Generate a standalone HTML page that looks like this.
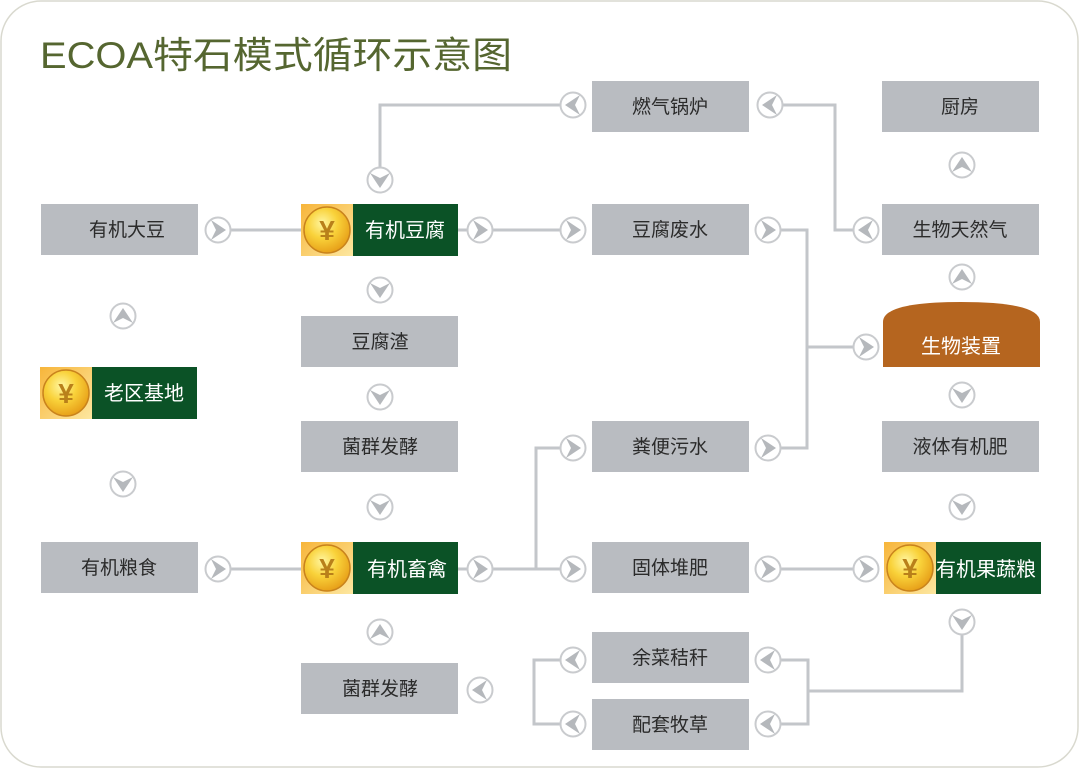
<!DOCTYPE html>
<html><head><meta charset="utf-8"><style>
html,body{margin:0;padding:0;background:#fff;}
svg{display:block;}
text{font-family:"Liberation Sans","Noto Sans CJK SC",sans-serif;}
</style></head><body>
<svg width="1080" height="769" viewBox="0 0 1080 769" xmlns="http://www.w3.org/2000/svg">
<defs>
<radialGradient id="cg" cx="40%" cy="35%" r="65%">
<stop offset="0" stop-color="#fff6a0"/><stop offset="0.5" stop-color="#f9d23a"/><stop offset="1" stop-color="#e8a21a"/>
</radialGradient>
<linearGradient id="sq" x1="0" y1="0" x2="1" y2="1">
<stop offset="0" stop-color="#f7b53a"/><stop offset="1" stop-color="#fde7a0"/>
</linearGradient>
<g id="ar">
<circle r="12.5" fill="#fff" stroke="#c9cbce" stroke-width="2"/>
<polygon points="-7,-10 8,0 -7,10 -2,0" fill="#b5b8bc"/>
</g>
<g id="coin">
<rect x="0" y="0" width="52" height="52" fill="url(#sq)"/>
<circle cx="26" cy="26" r="23" fill="url(#cg)" stroke="#c9831c" stroke-width="1.5"/>
<text x="26" y="36" font-size="28" font-weight="bold" fill="#b9801a" text-anchor="middle">¥</text>
</g>
</defs>
<rect x="1" y="1" width="1077" height="766" rx="40" fill="#fff" stroke="#d9d9cf" stroke-width="1.5"/>
<text x="40" y="68" font-size="37" fill="#556630" textLength="472" lengthAdjust="spacingAndGlyphs">ECOA特石模式循环示意图</text>

<g fill="none" stroke="#c3c6ca" stroke-width="3">
<polyline points="380,167 380,105 560,105"/>
<polyline points="783,105 835,105 835,230 853,230"/>
<line x1="231" y1="230" x2="467" y2="230"/>
<line x1="493" y1="230" x2="560" y2="230"/>
<polyline points="781,230 807,230 807,448 781,448"/>
<line x1="807" y1="347" x2="853" y2="347"/>
<line x1="231" y1="569" x2="467" y2="569"/>
<line x1="493" y1="569" x2="560" y2="569"/>
<polyline points="560,448 536,448 536,569"/>
<line x1="781" y1="569" x2="853" y2="569"/>
<polyline points="962,635 962,691 808,691"/>
<polyline points="781,660 808,660 808,724 781,724"/>
<polyline points="560,660 534,660 534,724 560,724"/>
</g>

<g fill="#b9bcc1">
<rect x="592" y="81" width="157" height="51"/>
<rect x="882" y="81" width="157" height="51"/>
<rect x="41" y="204" width="157" height="51"/>
<rect x="592" y="204" width="157" height="51"/>
<rect x="882" y="204" width="157" height="51"/>
<rect x="301" y="316" width="157" height="51"/>
<rect x="301" y="421" width="157" height="51"/>
<rect x="592" y="421" width="157" height="51"/>
<rect x="882" y="421" width="157" height="51"/>
<rect x="41" y="542" width="157" height="51"/>
<rect x="592" y="542" width="157" height="51"/>
<rect x="301" y="663" width="157" height="51"/>
<rect x="592" y="632" width="157" height="51"/>
<rect x="592" y="699" width="157" height="51"/>
</g>
<path d="M883,367 L883,322 Q883,302 961,302 Q1040,302 1040,322 L1040,367 Z" fill="#b5651f"/>

<g fill="#0b5226">
<rect x="353" y="204" width="105" height="52"/>
<rect x="92" y="367" width="105" height="52"/>
<rect x="353" y="542" width="105" height="52"/>
<rect x="936" y="542" width="105" height="52"/>
</g>
<use href="#coin" x="301" y="204"/>
<use href="#coin" x="40" y="367"/>
<use href="#coin" x="301" y="542"/>
<use href="#coin" x="884" y="542"/>

<g font-size="19" fill="#2b2b2b" text-anchor="middle">
<text x="670" y="113">燃气锅炉</text>
<text x="960" y="113">厨房</text>
<text x="127" y="236">有机大豆</text>
<text x="670" y="236">豆腐废水</text>
<text x="960" y="236">生物天然气</text>
<text x="380" y="348">豆腐渣</text>
<text x="380" y="453">菌群发酵</text>
<text x="670" y="453">粪便污水</text>
<text x="960" y="453">液体有机肥</text>
<text x="119" y="574">有机粮食</text>
<text x="670" y="574">固体堆肥</text>
<text x="380" y="695">菌群发酵</text>
<text x="670" y="664">余菜秸秆</text>
<text x="670" y="731">配套牧草</text>
</g>
<g font-size="20" fill="#fff" text-anchor="middle">
<text x="405" y="237">有机豆腐</text>
<text x="144" y="400">老区基地</text>
<text x="407" y="576">有机畜禽</text>
<text x="986" y="576">有机果蔬粮</text>
<text x="961" y="353">生物装置</text>
</g>

<use href="#ar" transform="translate(573,105) rotate(180)"/>
<use href="#ar" transform="translate(770,105) rotate(180)"/>
<use href="#ar" transform="translate(380,180) rotate(90)"/>
<use href="#ar" transform="translate(218,230)"/>
<use href="#ar" transform="translate(480,230)"/>
<use href="#ar" transform="translate(573,230)"/>
<use href="#ar" transform="translate(768,230)"/>
<use href="#ar" transform="translate(866,230) rotate(180)"/>
<use href="#ar" transform="translate(962,165) rotate(-90)"/>
<use href="#ar" transform="translate(962,277) rotate(-90)"/>
<use href="#ar" transform="translate(123,316) rotate(-90)"/>
<use href="#ar" transform="translate(380,290) rotate(90)"/>
<use href="#ar" transform="translate(866,347)"/>
<use href="#ar" transform="translate(962,395) rotate(90)"/>
<use href="#ar" transform="translate(380,397) rotate(90)"/>
<use href="#ar" transform="translate(123,484) rotate(90)"/>
<use href="#ar" transform="translate(573,448)"/>
<use href="#ar" transform="translate(768,448)"/>
<use href="#ar" transform="translate(380,507) rotate(90)"/>
<use href="#ar" transform="translate(962,507) rotate(90)"/>
<use href="#ar" transform="translate(218,569)"/>
<use href="#ar" transform="translate(480,569)"/>
<use href="#ar" transform="translate(573,569)"/>
<use href="#ar" transform="translate(768,569)"/>
<use href="#ar" transform="translate(866,569)"/>
<use href="#ar" transform="translate(380,632) rotate(-90)"/>
<use href="#ar" transform="translate(962,622) rotate(90)"/>
<use href="#ar" transform="translate(480,690) rotate(180)"/>
<use href="#ar" transform="translate(573,660) rotate(180)"/>
<use href="#ar" transform="translate(768,660) rotate(180)"/>
<use href="#ar" transform="translate(573,724) rotate(180)"/>
<use href="#ar" transform="translate(768,724) rotate(180)"/>
</svg>
</body></html>
